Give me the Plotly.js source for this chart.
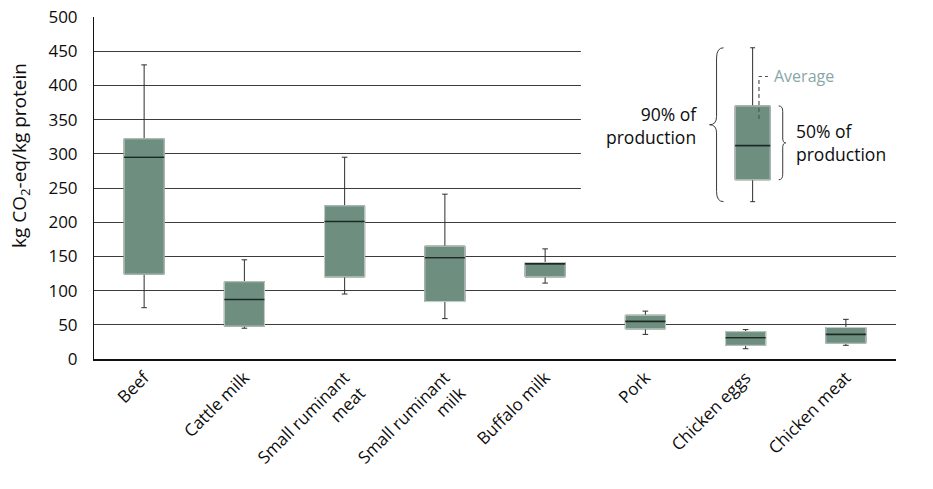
<!DOCTYPE html>
<html>
<head>
<meta charset="utf-8">
<script src="https://cdn.plot.ly/plotly-3.0.1.min.js"></script>
<style>html,body{margin:0;padding:0;background:#fff;}#chart{width:933px;height:489px;}</style>
</head>
<body>
<div id="chart"></div>
<script>
// Categories and box statistics (kg CO2-eq/kg protein)
const categories = ['Beef', 'Cattle milk', 'Small ruminant<br>meat', 'Small ruminant<br>milk', 'Buffalo milk', 'Pork', 'Chicken eggs', 'Chicken meat'];
const lowerWhisker = [75, 45, 95, 59, 111, 36, 15, 20];
const q1Values     = [124, 48, 120, 84, 120, 44, 20, 23];
const medianValues = [295, 87, 201, 148, 139, 55, 31, 36];
const q3Values     = [322, 113, 224, 165, 141, 64, 40, 46];
const upperWhisker = [430, 145, 295, 241, 161, 70, 43, 58];
const yTicks = [0, 50, 100, 150, 200, 250, 300, 350, 400, 450, 500];

// Key (legend) example box
const keyX = [6.07];
const keyLower = [230];
const keyQ1 = [262];
const keyMedian = [312];
const keyQ3 = [370];
const keyUpper = [455];
const keyAverage = 351;

const positions = categories.map((c, i) => i);

const FILL = 'rgb(110,142,128)';
const WHISKER = '#2e2e2e';
const EDGE = '#c6d3cc';
const MEDIAN = '#1c2824';
const FONT = 'Open Sans, Noto Sans, sans-serif';
const TXT = '#0d0d0d';

function layerTraces(x, lo, a, m, b, hi, w) {
  return [
    { type: 'box', x: x, lowerfence: lo, q1: a, median: m, q3: b, upperfence: hi,
      width: w, whiskerwidth: 0.14, fillcolor: FILL, line: { color: WHISKER, width: 1 },
      boxpoints: false, hoverinfo: 'skip', showlegend: false },
    { type: 'box', x: x, lowerfence: a, q1: a, median: m, q3: b, upperfence: b,
      width: w, whiskerwidth: 0, fillcolor: FILL, line: { color: EDGE, width: 1 },
      boxpoints: false, hoverinfo: 'skip', showlegend: false },
    { type: 'box', x: x, lowerfence: m, q1: m, median: m, q3: m, upperfence: m,
      width: w, whiskerwidth: 0, fillcolor: 'rgba(0,0,0,0)', line: { color: MEDIAN, width: 1.6 },
      boxpoints: false, hoverinfo: 'skip', showlegend: false }
  ];
}

const data = [].concat(
  layerTraces(positions, lowerWhisker, q1Values, medianValues, q3Values, upperWhisker, 0.4),
  layerTraces(keyX, keyLower, keyQ1, keyMedian, keyQ3, keyUpper, 0.35)
);

const kx = keyX[0];
// left brace spanning key whiskers
const lbx = kx - 0.29, lbm = kx - 0.36, lbt = kx - 0.43;
const lTop = keyUpper[0], lBot = keyLower[0], lMid = (lTop + lBot) / 2;
const leftBrace = `M ${lbx} ${lTop} Q ${lbm} ${lTop} ${lbm} ${lTop - 15} L ${lbm} ${lMid + 12} Q ${lbm} ${lMid} ${lbt} ${lMid} Q ${lbm} ${lMid} ${lbm} ${lMid - 12} L ${lbm} ${lBot + 15} Q ${lbm} ${lBot} ${lbx} ${lBot}`;
// right brace spanning key box
const rbx = kx + 0.26, rbm = kx + 0.30, rbt = kx + 0.33;
const rTop = keyQ3[0], rBot = keyQ1[0], rMid = (rTop + rBot) / 2;
const rightBrace = `M ${rbx} ${rTop} Q ${rbm} ${rTop} ${rbm} ${rTop - 8} L ${rbm} ${rMid + 7} Q ${rbm} ${rMid} ${rbt} ${rMid} Q ${rbm} ${rMid} ${rbm} ${rMid - 7} L ${rbm} ${rBot + 8} Q ${rbm} ${rBot} ${rbx} ${rBot}`;

const avgX = kx + 0.063;
const avgTopY = 413;

const layout = {
  width: 933, height: 489,
  margin: { l: 94, r: 37, t: 17, b: 130 },
  paper_bgcolor: '#fff', plot_bgcolor: '#fff',
  font: { family: FONT, color: TXT, size: 17 },
  boxmode: 'overlay',
  showlegend: false,
  xaxis: {
    type: 'linear', range: [-0.5, 7.5], tickvals: positions, ticktext: categories,
    tickangle: -45, showgrid: false, zeroline: false, showline: true, linecolor: '#111', linewidth: 2,
    ticks: '', ticklabelstandoff: 0, tickfont: { family: FONT, size: 17, color: TXT }, fixedrange: true
  },
  yaxis: {
    range: [0, 500], tickvals: yTicks, showgrid: true, gridcolor: '#3c3c3c', gridwidth: 1,
    zeroline: false, showline: true, linecolor: '#111', linewidth: 1, ticks: '',
    ticklabelstandoff: 12, tickfont: { family: FONT, size: 17, color: TXT },
    fixedrange: true
  },
  shapes: [
    { type: 'rect', xref: 'x', yref: 'y', x0: 4.357, x1: 7.6, y0: 225, y1: 492, fillcolor: '#fff', line: { width: 0 }, layer: 'between' },
    { type: 'path', xref: 'x', yref: 'y', path: leftBrace, line: { color: '#3a3a3a', width: 1 }, layer: 'above' },
    { type: 'path', xref: 'x', yref: 'y', path: rightBrace, line: { color: '#3a3a3a', width: 1 }, layer: 'above' },
    { type: 'line', xref: 'x', yref: 'y', x0: avgX, x1: avgX, y0: keyAverage, y1: avgTopY, line: { color: '#555', width: 1.2, dash: '4px,3px' }, layer: 'above' },
    { type: 'line', xref: 'x', yref: 'y', x0: avgX, x1: avgX + 0.1, y0: avgTopY, y1: avgTopY, line: { color: '#555', width: 1.2, dash: '3px,3px' }, layer: 'above' }
  ],
  annotations: [
    { xref: 'paper', yref: 'paper', x: -0.092, y: 0.594, xanchor: 'center', yanchor: 'middle', textangle: -90, text: 'kg CO<sub>2</sub>-eq/kg protein', showarrow: false, font: { family: FONT, size: 19, color: TXT } },
    { xref: 'x', yref: 'y', x: avgX + 0.13, y: avgTopY + 1, xanchor: 'left', yanchor: 'middle', text: 'Average', showarrow: false, font: { family: FONT, size: 16, color: '#86a7a6' } },
    { xref: 'x', yref: 'y', x: kx - 0.535, y: 341, xanchor: 'right', yanchor: 'middle', align: 'right', text: '90% of<br>production', showarrow: false, font: { family: FONT, size: 17.5, color: TXT } },
    { xref: 'x', yref: 'y', x: kx + 0.41, y: 316, xanchor: 'left', yanchor: 'middle', align: 'left', text: '50% of<br>production', showarrow: false, font: { family: FONT, size: 17.5, color: TXT } }
  ]
};

Plotly.newPlot('chart', data, layout, { displayModeBar: false, staticPlot: true });
</script>
</body>
</html>
